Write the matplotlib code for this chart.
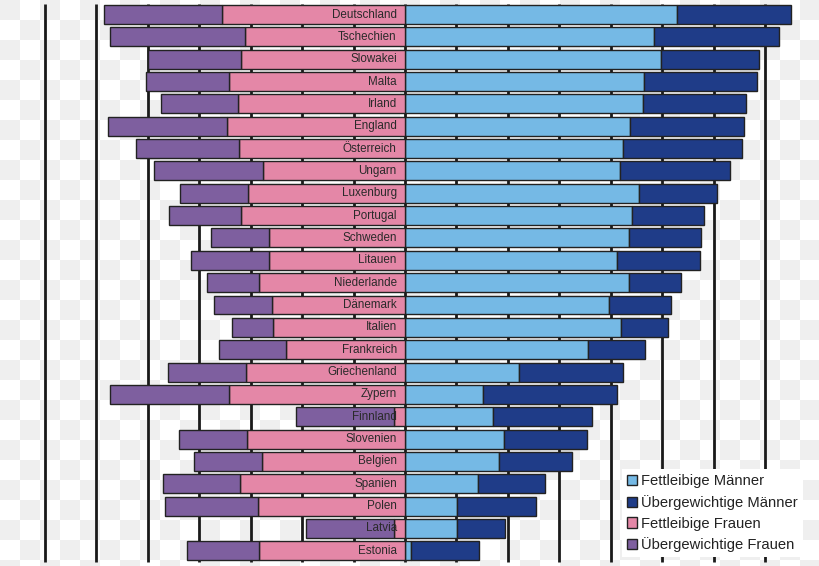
import matplotlib
matplotlib.use("Agg")
import matplotlib.pyplot as plt
import matplotlib.patches as mpatches
import numpy as np

plt.rcParams['font.family'] = ['Liberation Sans', 'DejaVu Sans']

laender = ["Deutschland", "Tschechien", "Slowakei", "Malta", "Irland", "England",
           "Österreich", "Ungarn", "Luxenburg", "Portugal", "Schweden", "Litauen",
           "Niederlande", "Dänemark", "Italien", "Frankreich", "Griechenland", "Zypern",
           "Finnland", "Slovenien", "Belgien", "Spanien", "Polen", "Latvia", "Estonia"]

# Prozent
maenner_fett = [52.8, 48.5, 49.7, 46.5, 46.2, 43.8, 42.3, 41.8, 45.5, 44.1, 43.5, 41.2,
                43.5, 39.7, 42.0, 35.6, 22.2, 15.1, 17.2, 19.2, 18.3, 14.1, 10.2, 10.2, 1.2]
maenner_ueber = [22.2, 24.2, 19.1, 22.0, 20.2, 22.2, 23.2, 21.3, 15.2, 14.1, 14.1, 16.1,
                 10.2, 12.1, 9.2, 11.1, 20.2, 26.2, 19.2, 16.1, 14.1, 13.1, 15.2, 9.3, 13.2]
frauen_fett = [35.5, 31.2, 31.9, 34.2, 32.4, 34.6, 32.2, 27.7, 30.6, 31.8, 26.4, 26.4,
               28.3, 25.9, 25.7, 23.2, 31.0, 34.2, 2.1, 30.7, 27.9, 32.0, 28.5, 2.1, 28.3]
frauen_ueber = [23.0, 26.1, 18.1, 16.1, 15.1, 23.1, 20.1, 21.1, 13.1, 14.0, 11.3, 15.2,
                10.2, 11.2, 8.0, 13.0, 15.0, 23.2, 19.1, 13.3, 13.1, 15.1, 18.1, 17.1, 14.1]

c_mf = "#75B9E5"
c_mu = "#1F3C88"
c_ff = "#E487A7"
c_fu = "#7E5F9F"

fig = plt.figure(figsize=(8.2, 5.66), dpi=100)

# karierter Hintergrund wie im Original
bg = fig.add_axes([0, 0, 1, 1])
zeilen, spalten = np.indices((29, 41))
karo = ((zeilen + spalten) % 2 == 0).astype(float)
bg.imshow(karo, cmap=matplotlib.colors.ListedColormap(["white", "#EFEFEF"]),
          extent=(0, 820, 580, 0), interpolation="nearest")
bg.set_xlim(0, 820)
bg.set_ylim(566, 0)
bg.axis("off")

ax = fig.add_axes([0, 0, 1, 1])
ax.patch.set_alpha(0)

y = np.arange(len(laender))
h = 0.85
mf = np.array(maenner_fett)
mu = np.array(maenner_ueber)
ff = np.array(frauen_fett)
fu = np.array(frauen_ueber)

ax.vlines(np.arange(-70, 71, 10), -0.47, 24.5, color="#1a1a1a", lw=2, zorder=1)

kw = dict(height=h, edgecolor="#222222", linewidth=1, zorder=3)
ax.barh(y, mf, left=0, color=c_mf, **kw)
ax.barh(y, mu, left=mf, color=c_mu, **kw)
ax.barh(y, -ff, left=0, color=c_ff, **kw)
ax.barh(y, -fu, left=-ff, color=c_fu, **kw)

for i, name in enumerate(laender):
    ax.text(-1.6, i, name, ha="right", va="center", fontsize=8.4, color="#2a2a2a", zorder=4)

ax.set_xlim(-405 / 5.143, 415 / 5.143)
ax.set_ylim(24.68, -0.649)
ax.axis("off")

handles = [mpatches.Patch(facecolor=c_mf, edgecolor="#222222", label="Fettleibige Männer"),
           mpatches.Patch(facecolor=c_mu, edgecolor="#222222", label="Übergewichtige Männer"),
           mpatches.Patch(facecolor=c_ff, edgecolor="#222222", label="Fettleibige Frauen"),
           mpatches.Patch(facecolor=c_fu, edgecolor="#222222", label="Übergewichtige Frauen")]
leg = ax.legend(handles=handles, loc="upper left", bbox_to_anchor=(0.758, 0.171),
                fontsize=10.6, frameon=True, fancybox=False, borderpad=0.35,
                handlelength=0.7, handleheight=0.7, handletextpad=0.3,
                labelspacing=0.45, borderaxespad=0)
leg.get_frame().set_facecolor("white")
leg.get_frame().set_edgecolor("none")
leg.get_frame().set_alpha(1)
leg.set_zorder(5)
for t in leg.get_texts():
    t.set_color("#222222")

fig.savefig("out.png", dpi=100)
